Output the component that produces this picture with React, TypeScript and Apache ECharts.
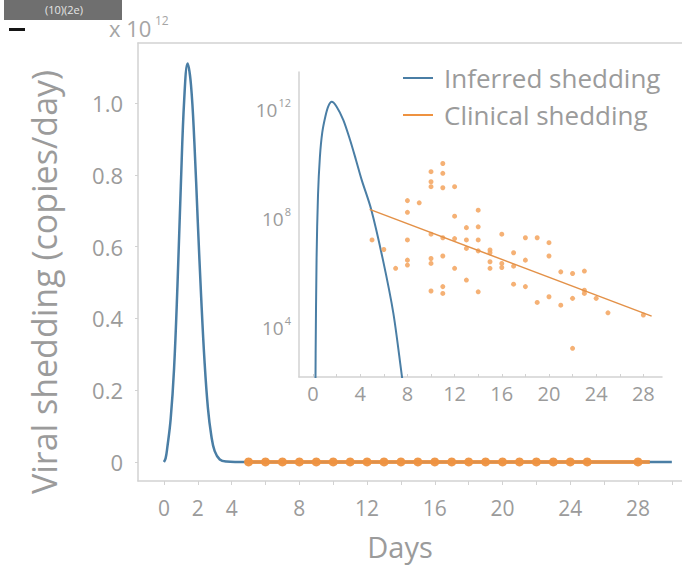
import React, { useEffect, useRef } from "react";
import * as echarts from "echarts";

// ---------- data ----------
// Main panel: inferred shedding (linear, ×10^12 copies/day)
const mainBlueDays = [0, 0.1, 0.2, 0.4, 0.6, 0.8, 1.0, 1.2, 1.4, 1.6, 1.8, 2.0, 2.2, 2.4, 2.6, 2.8, 3.0, 3.3, 3.7, 4.2, 30];
const mainBlueValues = [0, 0.01, 0.04, 0.12, 0.26, 0.49, 0.77, 1.01, 1.11, 1.05, 0.89, 0.67, 0.46, 0.28, 0.15, 0.073, 0.03, 0.007, 0.001, 0, 0];

// Clinical sampling days (main panel, plotted at ~0)
const clinicalDays = [5, 6, 7, 8, 9, 10, 11, 12, 13, 14, 15, 16, 17, 18, 19, 20, 21, 22, 23, 24, 25, 28];
const clinicalLineDays = [4.8, 28.7];

// Inset: inferred shedding, log10(copies/day)
const insetBlueDays = [0.2, 0.22, 0.3, 0.42, 0.58, 0.78, 1.05, 1.3, 1.58, 2.0, 2.57, 3.14, 3.64, 4.13, 4.92, 5.93, 6.81, 7.52, 7.65];
const insetBlueLog = [1.0, 3.0, 6.5, 8.8, 10.2, 11.1, 11.7, 12.07, 12.23, 12.05, 11.56, 10.83, 10.1, 9.36, 8.3, 6.43, 4.48, 2.22, 1.8];

// Inset: clinical measurements, log10(copies/day)
const clinicalPointDays = [
  5, 6, 7,
  8, 8, 8, 8, 8,
  9,
  10, 10, 10, 10, 10, 10, 10,
  11, 11, 11, 11, 11, 11, 11,
  12, 12, 12, 12,
  13, 13, 13, 13,
  14, 14, 14, 14, 14,
  15, 15, 15, 15,
  16, 16, 16,
  17, 17, 17,
  18, 18, 18,
  19, 19,
  20, 20, 20,
  21, 21,
  22, 22, 22,
  23, 23, 23,
  24, 25, 28,
];
const clinicalPointLog = [
  7.17, 6.82, 6.13,
  8.61, 8.18, 7.17, 6.43, 6.25,
  8.53,
  9.67, 9.3, 9.12, 7.38, 6.49, 6.31, 5.3,
  9.97, 9.61, 9.08, 7.25, 6.58, 5.46, 5.21,
  9.12, 8.04, 7.22, 6.13,
  7.62, 7.17, 6.86, 5.7,
  8.26, 7.65, 7.17, 6.77, 5.27,
  6.8, 6.7, 6.37, 6.13,
  7.38, 6.31, 6.16,
  6.7, 6.21, 5.55,
  7.25, 6.43, 5.46,
  7.25, 4.88,
  7.07, 6.58, 5.09,
  6.0, 4.78,
  5.94, 5.03, 3.2,
  6.03, 5.33, 5.21,
  5.03, 4.5, 4.42,
];
const clinicalFitLog = [8.29, 4.38];

// Tick values / labels
const mainXTicks = [0, 2, 4, 6, 8, 10, 12, 14, 16, 18, 20, 22, 24, 26, 28, 30];
const mainXLabels = [0, 2, 4, 8, 12, 16, 20, 24, 28];
const mainYLabels = [0, 0.2, 0.4, 0.6, 0.8, 1.0];
const insetXTicks = [0, 2, 4, 6, 8, 10, 12, 14, 16, 18, 20, 22, 24, 26, 28];
const insetXLabels = [0, 4, 8, 12, 16, 20, 24, 28];
const insetYLabels = [4, 8, 12];

const seriesNames = ["Inferred shedding", "Clinical shedding"];

// ---------- style ----------
const BLUE = "#4a7ea5";
const ORANGE = "#ee9240";
const ORANGE_LIGHT = "#f4a866";
const TEXT = "#9b9b9b";
const AXIS = "#d2d2d2";
const FONT = '"Open Sans", "DejaVu Sans", sans-serif';

export default function App() {
  const ref = useRef<HTMLDivElement>(null);

  useEffect(() => {
    if (!ref.current) return;
    const chart = echarts.init(ref.current, undefined, { renderer: "svg" });

    const mainBlue = mainBlueDays.map((d, i) => [d, mainBlueValues[i]]);
    const mainClinLine = clinicalLineDays.map((d) => [d, 0]);
    const mainClinPts = clinicalDays.map((d) => [d, 0]);
    const insetBlue = insetBlueDays.map((d, i) => [d, insetBlueLog[i]]);
    const insetPts = clinicalPointDays.map((d, i) => [d, clinicalPointLog[i]]);
    const insetFit = clinicalLineDays.map((d, i) => [d, clinicalFitLog[i]]);

    const option: any = {
      animation: false,
      backgroundColor: "#ffffff",
      textStyle: { fontFamily: FONT },
      grid: [
        { left: 138, top: 43, width: 544, height: 438 },
        { left: 299, top: 72, width: 363, height: 305 },
      ],
      xAxis: [
        {
          type: "value",
          gridIndex: 0,
          min: -1.53,
          max: 30.6,
          splitLine: { show: false },
          axisLine: { show: true, onZero: false, lineStyle: { color: AXIS, width: 1.5 } },
          axisTick: {
            show: true,
            customValues: mainXTicks,
            length: 4,
            lineStyle: { color: AXIS },
          },
          axisLabel: {
            customValues: mainXLabels,
            margin: 16,
            color: TEXT,
            fontSize: 21,
            fontFamily: FONT,
            formatter: (v: number) => String(v),
          },
        },
        {
          type: "value",
          gridIndex: 0,
          position: "top",
          min: -1.53,
          max: 30.6,
          splitLine: { show: false },
          axisLine: { show: true, onZero: false, lineStyle: { color: AXIS, width: 1.5 } },
          axisTick: { show: false },
          axisLabel: { show: false },
        },
        {
          type: "value",
          gridIndex: 1,
          min: -1.19,
          max: 29.58,
          splitLine: { show: false },
          axisLine: { show: true, onZero: false, lineStyle: { color: AXIS, width: 1.5 } },
          axisTick: {
            show: true,
            inside: true,
            customValues: insetXTicks,
            length: 3,
            lineStyle: { color: AXIS },
          },
          axisLabel: {
            customValues: insetXLabels,
            margin: 6,
            color: TEXT,
            fontSize: 20,
            fontFamily: FONT,
            formatter: (v: number) => String(v),
          },
        },
      ],
      yAxis: [
        {
          type: "value",
          gridIndex: 0,
          min: -0.053,
          max: 1.167,
          splitLine: { show: false },
          axisLine: { show: true, onZero: false, lineStyle: { color: AXIS, width: 1.5 } },
          axisTick: {
            show: true,
            customValues: mainYLabels,
            length: 3,
            lineStyle: { color: AXIS },
          },
          axisLabel: {
            customValues: mainYLabels,
            margin: 15,
            color: TEXT,
            fontSize: 22,
            fontFamily: FONT,
            formatter: (v: number) => (v === 0 ? "0" : v.toFixed(1)),
          },
        },
        {
          type: "value",
          gridIndex: 1,
          min: 2.15,
          max: 13.32,
          splitLine: { show: false },
          axisLine: { show: true, onZero: false, lineStyle: { color: AXIS, width: 1.5 } },
          axisTick: { show: false },
          axisLabel: {
            customValues: insetYLabels,
            margin: 8,
            color: TEXT,
            fontFamily: FONT,
            formatter: (v: number) => "{b|10}{s|" + v + "}",
            rich: {
              b: { fontSize: 19, color: TEXT, fontFamily: FONT, verticalAlign: "bottom", lineHeight: 22 },
              s: { fontSize: 11, color: TEXT, fontFamily: FONT, verticalAlign: "top", lineHeight: 22, padding: [0, 0, 6, 1] },
            },
          },
        },
      ],
      legend: {
        orient: "vertical",
        left: 398,
        top: 58,
        itemGap: 7,
        itemWidth: 30,
        itemHeight: 2,
        textStyle: { fontSize: 26, color: TEXT, fontFamily: FONT, lineHeight: 30, padding: [0, 0, 0, 6] },
        data: [
          { name: seriesNames[0], icon: "rect", itemStyle: { color: BLUE } },
          { name: seriesNames[1], icon: "rect", itemStyle: { color: ORANGE } },
        ],
        selectedMode: false,
      },
      series: [
        {
          name: seriesNames[0],
          type: "line",
          xAxisIndex: 0,
          yAxisIndex: 0,
          data: mainBlue,
          smooth: 0.4,
          showSymbol: false,
          lineStyle: { color: BLUE, width: 2.5 },
          itemStyle: { color: BLUE },
          z: 2,
        },
        {
          name: seriesNames[1],
          type: "line",
          xAxisIndex: 0,
          yAxisIndex: 0,
          data: mainClinLine,
          showSymbol: false,
          lineStyle: { color: ORANGE, width: 4, opacity: 0.9 },
          itemStyle: { color: ORANGE },
          z: 3,
        },
        {
          name: seriesNames[1],
          type: "scatter",
          xAxisIndex: 0,
          yAxisIndex: 0,
          data: mainClinPts,
          symbolSize: 9,
          itemStyle: { color: ORANGE, opacity: 0.95 },
          z: 4,
        },
        {
          name: seriesNames[0],
          type: "line",
          xAxisIndex: 2,
          yAxisIndex: 1,
          data: insetBlue,
          smooth: 0.3,
          showSymbol: false,
          clip: true,
          lineStyle: { color: BLUE, width: 2 },
          itemStyle: { color: BLUE },
          z: 2,
        },
        {
          name: seriesNames[1],
          type: "scatter",
          xAxisIndex: 2,
          yAxisIndex: 1,
          data: insetPts,
          symbolSize: 5,
          itemStyle: { color: ORANGE_LIGHT, opacity: 0.9 },
          z: 3,
        },
        {
          name: seriesNames[1],
          type: "line",
          xAxisIndex: 2,
          yAxisIndex: 1,
          data: insetFit,
          showSymbol: false,
          lineStyle: { color: "#e39148", width: 1.5 },
          itemStyle: { color: ORANGE },
          z: 4,
        },
      ],
      graphic: [
        {
          type: "rect",
          shape: { x: 4, y: -4, width: 118, height: 24 },
          style: { fill: "#6f6f6f" },
        },
        {
          type: "text",
          x: 64,
          y: 9,
          style: { text: "(10)(2e)", fill: "#e6e6e6", font: '11px "Open Sans"', align: "center", verticalAlign: "middle" },
        },
        {
          type: "rect",
          shape: { x: 9, y: 28, width: 16, height: 3 },
          style: { fill: "#151515" },
        },
        {
          type: "text",
          x: 109,
          y: 28,
          style: { text: "x 10", fill: "#a5a5a5", font: '22px "Open Sans"', align: "left", verticalAlign: "middle" },
        },
        {
          type: "text",
          x: 155,
          y: 20,
          style: { text: "12", fill: "#a5a5a5", font: '12px "Open Sans"', align: "left", verticalAlign: "middle" },
        },
        {
          type: "text",
          x: 44,
          y: 282,
          rotation: Math.PI / 2,
          style: {
            text: "Viral shedding (copies/day)",
            fill: TEXT,
            font: '34px "Open Sans"',
            align: "center",
            verticalAlign: "middle",
          },
        },
        {
          type: "text",
          x: 400,
          y: 546,
          style: { text: "Days", fill: TEXT, font: '29px "Open Sans"', align: "center", verticalAlign: "middle" },
        },
      ],
    };

    chart.setOption(option);
    return () => chart.dispose();
  }, []);

  return (
    <div
      ref={ref}
      style={{ position: "absolute", left: 0, top: 0, width: 682, height: 567 }}
    />
  );
}
